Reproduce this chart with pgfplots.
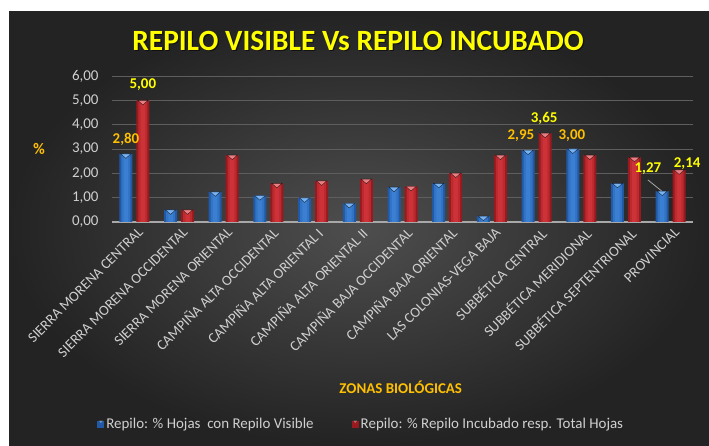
\documentclass[border=0pt]{standalone}
\usepackage{fontspec}
\setmainfont{Carlito}
\usepackage{pgfplots}
\usepackage{pgfplotstable}
\pgfplotsset{compat=1.18}
\definecolor{bgin}{HTML}{4E4E4E}
\definecolor{bgout}{HTML}{232323}
\definecolor{labgray}{HTML}{D0D0D0}
\definecolor{gridc}{HTML}{5E5E5E}
\definecolor{axc}{HTML}{A8A8A8}
\definecolor{gold}{HTML}{FFC000}
\definecolor{yel}{HTML}{FFFF00}
\definecolor{bl1}{HTML}{2159A6}
\definecolor{bl2}{HTML}{3E85D8}
\definecolor{bl3}{HTML}{8CC4FF}
\definecolor{rd1}{HTML}{981A1F}
\definecolor{rd2}{HTML}{D4363B}
\definecolor{rd3}{HTML}{F59A9D}
\pgfplotsset{/pgf/number format/assume math mode=true}
\pgfplotstableread{
x vis inc
0  2.80 5.00
1  0.50 0.50
2  1.24 2.75
3  1.08 1.59
4  0.99 1.69
5  0.76 1.76
6  1.43 1.46
7  1.59 2.01
8  0.24 2.75
9  2.95 3.65
10 3.00 2.75
11 1.59 2.66
12 1.27 2.14
}\datatable
\begin{document}
\begin{tikzpicture}[x=1bp,y=1bp]
\fill[white] (0,0) rectangle (709,446);
\shade[inner color=bgin, outer color=bgout] (9,0) rectangle (709,434);
\node[font=\bfseries\fontsize{29.5}{32}\selectfont, text=black, opacity=0.55] at (359.2,403.8) {REPILO VISIBLE Vs REPILO INCUBADO};
\node[font=\bfseries\fontsize{29.5}{32}\selectfont, text=yel] at (358,405) {REPILO VISIBLE Vs REPILO INCUBADO};
\begin{axis}[
  at={(112bp,224bp)}, anchor=south west,
  width=581bp, height=146bp, scale only axis,
  xmin=-0.5, xmax=12.5, ymin=0, ymax=6,
  ytick={0,1,2,3,4,5,6},
  xtick={0,...,12},
  xticklabels={SIERRA MORENA CENTRAL,SIERRA MORENA OCCIDENTAL,SIERRA MORENA ORIENTAL,CAMPIÑA ALTA OCCIDENTAL,CAMPIÑA ALTA ORIENTAL I,CAMPIÑA ALTA ORIENTAL II,CAMPIÑA BAJA OCCIDENTAL,CAMPIÑA BAJA ORIENTAL,LAS COLONIAS-VEGA BAJA,SUBBÉTICA CENTRAL,SUBBÉTICA MERIDIONAL,SUBBÉTICA SEPTENTRIONAL,PROVINCIAL},
  major tick length=0,
  axis x line*=bottom, axis y line*=left,
  x axis line style={draw=axc, line width=1.3bp, -},
  y axis line style={draw=none},
  ymajorgrids, grid style={draw=gridc, line width=0.9bp},
  xticklabel style={rotate=45, anchor=north east, font=\fontsize{14.5}{16}\selectfont, text=labgray, inner sep=1bp, yshift=-4bp},
  yticklabel style={font=\fontsize{15}{17}\selectfont, text=labgray, /pgf/number format/fixed, /pgf/number format/fixed zerofill, /pgf/number format/precision=2, /pgf/number format/use comma, /pgf/number format/assume math mode=true, xshift=-10bp},
  ylabel={\%},
  ylabel style={at={(axis description cs:-0.1256,0.5)}, anchor=center, rotate=90, font=\bfseries\fontsize{16}{18}\selectfont, text=gold},
  xlabel={ZONAS BIOLÓGICAS},
  xlabel style={at={(axis description cs:0.497,-1.13)}, anchor=center, font=\bfseries\fontsize{15}{17}\selectfont, text=gold},
  legend style={at={(axis description cs:0.429,-1.384)}, anchor=center, draw=none, fill=none, text=labgray, font=\fontsize{15}{17}\selectfont, legend columns=2, /tikz/every even column/.append style={column sep=36bp}},
  legend image code/.code={\path[#1,draw=none] (0bp,-3.5bp) rectangle (7bp,3.5bp); \path[fill=white, opacity=0.35] (1.5bp,3.5bp) -- (5.5bp,3.5bp) -- (3.5bp,1bp) -- cycle;},
  clip=false,
]
\addplot[ybar, bar width=13bp, bar shift=-8.5bp, fill=bl1, draw=none] table[x=x,y=vis] {\datatable};
\addlegendentry{Repilo: \% Hojas\ \ con Repilo Visible}
\addplot[ybar, bar width=13bp, bar shift=8.5bp, fill=rd1, draw=none] table[x=x,y=inc] {\datatable};
\addlegendentry{Repilo: \% Repilo Incubado resp. Total Hojas}
\addplot[ybar, bar width=9bp, bar shift=-8.5bp, fill=bl2, draw=none, opacity=0.6, forget plot] table[x=x,y=vis] {\datatable};
\addplot[ybar, bar width=4.5bp, bar shift=-8.5bp, fill=bl2, draw=none, opacity=0.7, forget plot] table[x=x,y=vis] {\datatable};
\addplot[ybar, bar width=9bp, bar shift=8.5bp, fill=rd2, draw=none, opacity=0.6, forget plot] table[x=x,y=inc] {\datatable};
\addplot[ybar, bar width=4.5bp, bar shift=8.5bp, fill=rd2, draw=none, opacity=0.7, forget plot] table[x=x,y=inc] {\datatable};
\addplot[only marks, mark=triangle*, mark size=6bp, mark options={fill=bl3, draw=none, opacity=0.75, xshift=-8.5bp, yscale=-0.5, yshift=3bp}, forget plot] table[x=x,y=vis] {\datatable};
\addplot[only marks, mark=triangle*, mark size=6bp, mark options={fill=rd3, draw=none, opacity=0.75, xshift=8.5bp, yscale=-0.5, yshift=3bp}, forget plot] table[x=x,y=inc] {\datatable};
\node[font=\bfseries\fontsize{15}{17}\selectfont, text=gold] at (axis cs:-0.187,3.41) {2,80};
\node[font=\bfseries\fontsize{15}{17}\selectfont, text=yel] at (axis cs:0.19,5.63) {5,00};
\node[font=\bfseries\fontsize{15}{17}\selectfont, text=gold] at (axis cs:8.65,3.53) {2,95};
\node[font=\bfseries\fontsize{15}{17}\selectfont, text=yel] at (axis cs:9.17,4.27) {3,65};
\node[font=\bfseries\fontsize{15}{17}\selectfont, text=gold] at (axis cs:9.79,3.53) {3,00};
\node[font=\bfseries\fontsize{15}{17}\selectfont, text=yel] at (axis cs:11.49,2.18) {1,27};
\node[font=\bfseries\fontsize{15}{17}\selectfont, text=yel] at (axis cs:12.37,2.38) {2,14};
\draw[gray!70, line width=0.8bp] (axis cs:11.49,1.73) -- (axis cs:11.80,1.27);
\end{axis}
\end{tikzpicture}
\end{document}
